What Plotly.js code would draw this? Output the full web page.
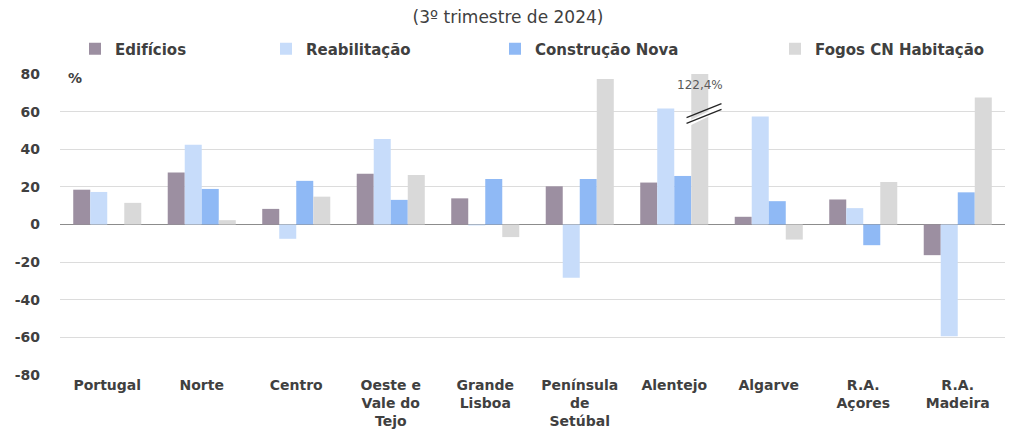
<!DOCTYPE html>
<html>
<head>
<meta charset="utf-8">
<script src="https://cdn.plot.ly/plotly-3.0.1.min.js"></script>
<style>html,body{margin:0;padding:0;background:#fff;}#chart{width:1010px;height:433px;}</style>
</head>
<body>
<div id="chart"></div>
<script>
var categories = ["Portugal", "Norte", "Centro", "Oeste e<br>Vale do<br>Tejo", "Grande<br>Lisboa", "Península<br>de<br>Setúbal", "Alentejo", "Algarve", "R.A.<br>Açores", "R.A.<br>Madeira"];
var edificios   = [18.5, 27.7, 8.3, 27.0, 13.9, 20.3, 22.3, 4.1, 13.3, -16.3];
var reabilitacao = [17.3, 42.4, -7.6, 45.4, -0.5, -28.3, 61.7, 57.4, 8.7, -59.4];
var construcaoNova = [0, 18.9, 23.2, 13.1, 24.2, 24.2, 25.8, 12.4, -11.0, 17.1];
var fogosCN = [11.5, 2.3, 14.8, 26.3, -6.7, 77.4, 122.4, -8.0, 22.6, 67.5];
var seriesNames = ["Edifícios", "Reabilitação", "Construção Nova", "Fogos CN Habitação"];
var seriesColors = ["#9c8fa1", "#c7dcfa", "#8fb9f5", "#d9d9d9"];
var yTicks = [-80, -60, -40, -20, 0, 20, 40, 60, 80];
var breakLabel = "122,4%";

var fontFam = "DejaVu Sans, Verdana, sans-serif";
var txtColor = "#404040";
var allSeries = [edificios, reabilitacao, construcaoNova, fogosCN];
var legendIds = ["legend", "legend2", "legend3", "legend4"];
var traces = allSeries.map(function (vals, i) {
  return {
    type: "bar",
    x: categories,
    y: vals,
    name: seriesNames[i],
    marker: {color: seriesColors[i]},
    legend: legendIds[i],
    showlegend: true,
    hoverinfo: "x+y+name"
  };
});

var plotL = 60, plotR = 1005, plotT = 74, plotB = 375;
var plotW = plotR - plotL, plotH = plotB - plotT;
function px2paperX(px) { return (px - plotL) / plotW; }
function px2paperY(py) { return (plotB - py) / plotH; }

var legendTextStarts = [115, 306, 535, 815];
function makeLegend(i) {
  return {
    orientation: "h",
    x: px2paperX(legendTextStarts[i] - 40),
    xanchor: "left",
    y: px2paperY(49),
    yanchor: "middle",
    font: {family: fontFam, size: 15, color: txtColor, weight: "bold"},
    bgcolor: "rgba(0,0,0,0)",
    itemwidth: 30,
    borderwidth: 0,
    visible: true
  };
}

var altIdx = categories.indexOf("Alentejo");

var layout = {
  width: 1010,
  height: 433,
  showlegend: true,
  margin: {l: plotL, r: 1010 - plotR, t: plotT, b: 433 - plotB, pad: 0},
  paper_bgcolor: "#ffffff",
  plot_bgcolor: "#ffffff",
  barmode: "group",
  bargap: 0.28,
  bargroupgap: 0,
  title: {
    text: "(3º trimestre de 2024)",
    x: 0.503, xanchor: "center",
    y: 1 - 17 / 433, yanchor: "middle",
    font: {family: fontFam, size: 17, color: txtColor}
  },
  xaxis: {
    type: "category",
    showgrid: false,
    zeroline: false,
    showline: false,
    ticks: "",
    tickfont: {family: fontFam, size: 14, color: txtColor, weight: "bold"},
    automargin: false
  },
  yaxis: {
    range: [-80, 80],
    tickvals: yTicks,
    ticktext: yTicks.map(String),
    showgrid: true,
    gridcolor: "#dcdcdc",
    gridwidth: 1,
    zeroline: true,
    zerolinecolor: "#8c8c8c",
    zerolinewidth: 1.5,
    showline: false,
    ticks: "",
    ticklabelstandoff: 19,
    tickfont: {family: fontFam, size: 14, color: txtColor, weight: "bold"},
    automargin: false
  },
  legend: makeLegend(0),
  legend2: makeLegend(1),
  legend3: makeLegend(2),
  legend4: makeLegend(3),
  annotations: [
    {
      text: "%", xref: "paper", x: 0.006, xanchor: "left",
      yref: "y", y: 78, yanchor: "middle", showarrow: false,
      font: {family: fontFam, size: 14, color: txtColor, weight: "bold"}
    },
    {
      text: breakLabel, xref: "x", x: altIdx + 0.27, xanchor: "center",
      yref: "y", y: 74, yanchor: "middle", showarrow: false,
      font: {family: fontFam, size: 12, color: "#595959"}
    }
  ],
  shapes: [
    {type: "path", xref: "x", yref: "y",
     path: "M " + (altIdx + 0.13) + " 54.5 L " + (altIdx + 0.50) + " 63.5 L " + (altIdx + 0.50) + " 60.7 L " + (altIdx + 0.13) + " 51.7 Z",
     fillcolor: "#ffffff", line: {width: 0}},
    {type: "line", xref: "x", yref: "y", x0: altIdx + 0.13, y0: 56.8, x1: altIdx + 0.50, y1: 64.2,
     line: {color: "#262626", width: 1.3}},
    {type: "line", xref: "x", yref: "y", x0: altIdx + 0.13, y0: 53.8, x1: altIdx + 0.50, y1: 61.2,
     line: {color: "#262626", width: 1.3}}
  ]
};

Plotly.newPlot("chart", traces, layout, {displayModeBar: false, staticPlot: true});
</script>
</body>
</html>
